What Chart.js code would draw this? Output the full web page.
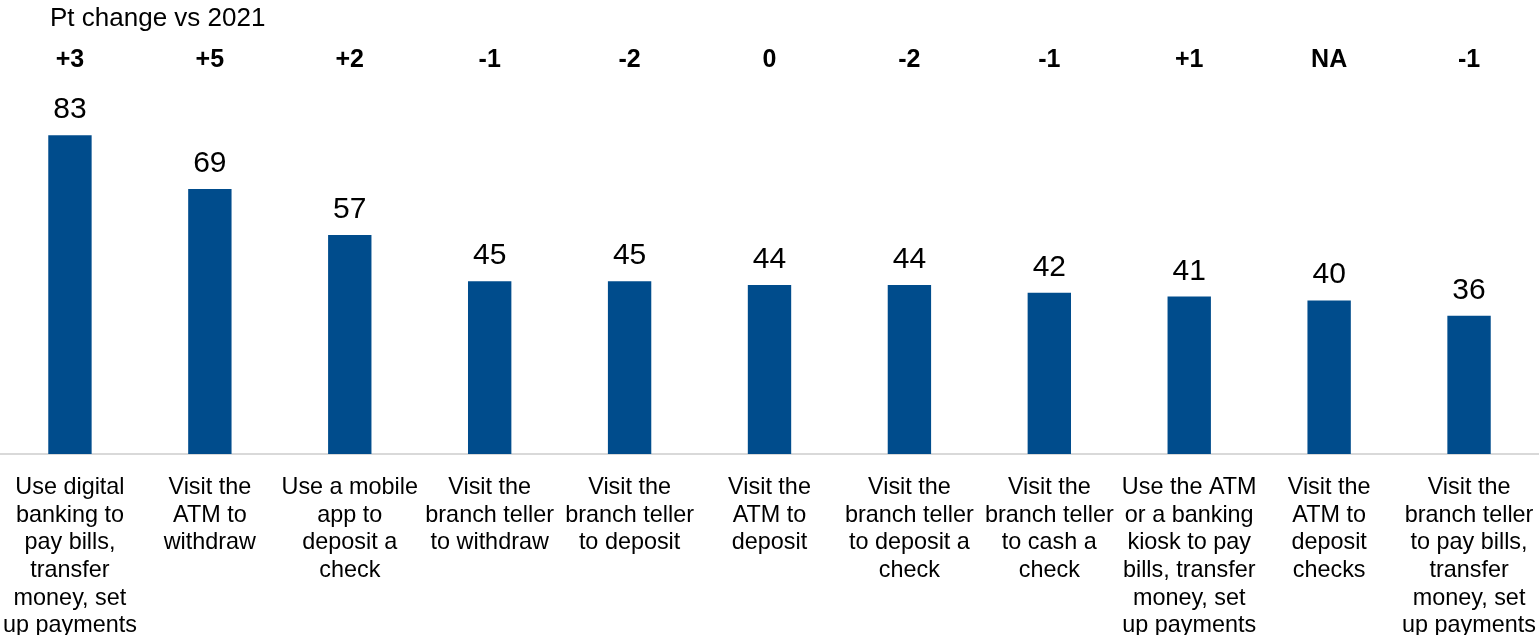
<!DOCTYPE html>
<html lang="en">
<head>
  <meta charset="UTF-8" />
  <title>Banking channel usage</title>
  <script src="https://cdn.jsdelivr.net/npm/chart.js"></script>
  <style>
    html, body { margin: 0; padding: 0; background: #fff; }
    #wrap { width: 1539px; height: 635px; position: relative; }
  </style>
</head>
<body>
  <div id="wrap"><canvas id="grafico"></canvas></div>

  <script>
    // categorias (una linea por elemento)
    const categorias = [
      ["Use digital", "banking to", "pay bills,", "transfer", "money, set", "up payments"],
      ["Visit the", "ATM to", "withdraw"],
      ["Use a mobile", "app to", "deposit a", "check"],
      ["Visit the", "branch teller", "to withdraw"],
      ["Visit the", "branch teller", "to deposit"],
      ["Visit the", "ATM to", "deposit"],
      ["Visit the", "branch teller", "to deposit a", "check"],
      ["Visit the", "branch teller", "to cash a", "check"],
      ["Use the ATM", "or a banking", "kiosk to pay", "bills, transfer", "money, set", "up payments"],
      ["Visit the", "ATM to", "deposit", "checks"],
      ["Visit the", "branch teller", "to pay bills,", "transfer", "money, set", "up payments"]
    ];
    const valores = [83, 69, 57, 45, 45, 44, 44, 42, 41, 40, 36];
    const cambios = ["+3", "+5", "+2", "-1", "-2", "0", "-2", "-1", "+1", "NA", "-1"];
    const tituloCambio = "Pt change vs 2021";

    const fuente = '"Liberation Sans", Arial, sans-serif';

    // etiquetas de valor y fila de cambios
    const etiquetas = {
      id: 'etiquetas',
      afterDatasetsDraw(chart) {
        const ctx = chart.ctx;
        const meta = chart.getDatasetMeta(0);
        ctx.save();
        ctx.fillStyle = '#000';
        ctx.textAlign = 'center';
        ctx.textBaseline = 'alphabetic';
        meta.data.forEach((bar, i) => {
          ctx.font = '30px ' + fuente;
          ctx.fillText(String(valores[i]), bar.x, bar.y - 17);
          ctx.font = 'bold 25px ' + fuente;
          ctx.fillText(cambios[i], bar.x, 67);
        });
        ctx.textAlign = 'left';
        ctx.font = '26px ' + fuente;
        ctx.fillText(tituloCambio, 50, 26);
        ctx.restore();
      }
    };

    new Chart(document.getElementById('grafico'), {
      type: 'bar',
      data: {
        labels: categorias,
        datasets: [{
          data: valores,
          backgroundColor: '#004c8c',
          borderWidth: 0,
          barPercentage: 0.31,
          categoryPercentage: 1
        }]
      },
      options: {
        responsive: true,
        maintainAspectRatio: false,
        animation: false,
        layout: { padding: { top: 70, left: 0, right: 0, bottom: 0 } },
        plugins: {
          legend: { display: false },
          tooltip: { enabled: false }
        },
        scales: {
          x: {
            grid: { display: false, drawTicks: false },
            border: { display: true, color: '#d9d9d9', width: 2 },
            ticks: {
              autoSkip: false,
              maxRotation: 0,
              minRotation: 0,
              padding: 20,
              color: '#000',
              font: { family: fuente, size: 23.4, lineHeight: 1.18 }
            },
            afterFit(scale) {
              scale.height = 181;
              scale.paddingLeft = 0;
              scale.paddingRight = 0;
            }
          },
          y: {
            display: false,
            min: 0,
            max: 100
          }
        }
      },
      plugins: [etiquetas]
    });
  </script>
</body>
</html>
